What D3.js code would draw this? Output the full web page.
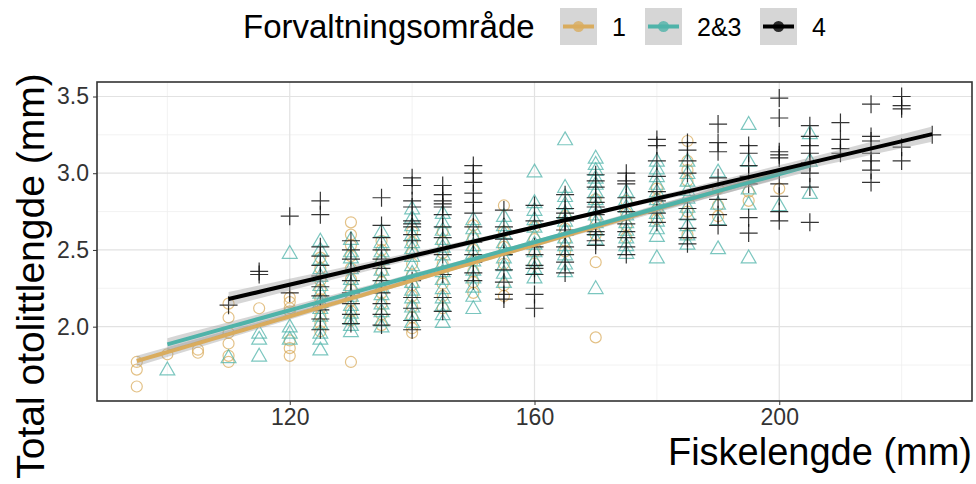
<!DOCTYPE html>
<html>
<head>
<meta charset="utf-8">
<script src="https://cdn.jsdelivr.net/npm/d3@7/dist/d3.min.js"></script>
<style>
  body { margin: 0; background: #fff; }
  text { font-family: "Liberation Sans", Arial, sans-serif; }
</style>
</head>
<body>
<svg id="chart" width="976" height="484"></svg>
<script>
// Groups and colours
var groups = ["1", "2&3", "4"];
var groupColors = ["#D9AC5E", "#4FB3A9", "#000000"];

// Observations: [fish length, [otolith lengths...]]
var area1 = [
  [95, [1.77, 1.72, 1.61]],
  [100, [1.82]],
  [105, [1.85, 1.83]],
  [110, [2.15, 2.06, 1.96, 1.89, 1.81, 1.77]],
  [115, [2.12]],
  [120, [2.19, 2.16, 2.12, 2.10, 1.91, 1.86, 1.81]],
  [125, [2.45, 2.38, 2.30, 2.24, 2.18, 2.12, 2.07, 2.02, 1.97]],
  [130, [2.68, 2.60, 2.53, 2.46, 2.38, 2.31, 2.24, 2.17, 2.10, 2.04, 1.77]],
  [135, [2.56, 2.50, 2.43, 2.36, 2.29, 2.22, 2.15, 2.08, 2.01]],
  [140, [2.62, 2.55, 2.48, 2.41, 2.34, 2.27, 2.20, 2.13, 2.06, 1.99, 1.96]],
  [145, [2.62, 2.55, 2.48, 2.41, 2.35, 2.28, 2.20, 2.12]],
  [150, [2.66, 2.58, 2.50, 2.43, 2.36, 2.29, 2.22]],
  [155, [2.79, 2.62, 2.52, 2.41, 2.27, 2.20]],
  [160, [2.65, 2.57, 2.49, 2.41]],
  [165, [2.72, 2.64, 2.56, 2.49]],
  [170, [2.83, 2.70, 2.60, 2.42, 1.93]],
  [175, [2.82, 2.74, 2.66, 2.58]],
  [180, [2.90, 2.83, 2.76, 2.70]],
  [185, [3.21, 3.08, 3.02, 2.95, 2.75, 2.60]],
  [190, [2.90, 2.79, 2.72]],
  [195, [2.88, 2.82]],
  [200, [2.90]]
];

var area23 = [
  [100, [1.72]],
  [110, [1.80]],
  [115, [1.96, 1.92, 1.81]],
  [120, [2.48, 2.00, 1.96, 1.92]],
  [125, [2.56, 2.50, 2.44, 2.38, 2.33, 2.27, 2.22, 2.16, 2.12, 2.07, 2.02, 1.96, 1.92, 1.85]],
  [130, [2.57, 2.49, 2.45, 2.38, 2.31, 2.27, 2.20, 2.14, 2.09, 2.05, 2.01, 1.97]],
  [135, [2.62, 2.55, 2.49, 2.44, 2.37, 2.31, 2.26, 2.21, 2.15, 2.10, 2.04, 2.00]],
  [140, [2.77, 2.71, 2.66, 2.60, 2.55, 2.51, 2.46, 2.40, 2.35, 2.29, 2.24, 2.19, 2.13, 2.08, 2.03]],
  [145, [2.74, 2.68, 2.63, 2.57, 2.52, 2.47, 2.41, 2.36, 2.31, 2.25, 2.19, 2.14, 2.08, 2.03]],
  [150, [2.70, 2.64, 2.59, 2.53, 2.48, 2.43, 2.37, 2.32, 2.26, 2.20, 2.12]],
  [155, [2.72, 2.66, 2.61, 2.55, 2.50, 2.45, 2.40, 2.35, 2.29]],
  [160, [3.01, 2.81, 2.76, 2.70, 2.65, 2.59, 2.54, 2.49, 2.43, 2.38, 2.32]],
  [165, [3.22, 2.91, 2.85, 2.80, 2.74, 2.69, 2.63, 2.58, 2.53, 2.47, 2.41, 2.36]],
  [170, [3.10, 3.06, 3.02, 2.97, 2.93, 2.88, 2.83, 2.78, 2.73, 2.68, 2.63, 2.57, 2.25]],
  [175, [2.88, 2.83, 2.78, 2.73, 2.68, 2.63, 2.58, 2.53, 2.48]],
  [180, [3.08, 3.03, 2.98, 2.93, 2.88, 2.83, 2.78, 2.74, 2.69, 2.64, 2.59, 2.45]],
  [185, [3.08, 3.00, 2.95, 2.89, 2.84, 2.78, 2.73, 2.66, 2.60, 2.54]],
  [190, [3.01, 2.80, 2.70, 2.51]],
  [195, [3.32, 3.08, 2.90, 2.80, 2.45]],
  [200, [2.79]],
  [205, [3.26, 3.08, 2.87]]
];

var area4 = [
  [110, [2.14]],
  [115, [2.36, 2.34]],
  [120, [2.72, 2.22]],
  [125, [2.82, 2.73, 2.52, 2.46, 2.40, 2.33, 2.26, 2.20, 2.11, 2.05, 1.98]],
  [130, [2.56, 2.50, 2.44, 2.36, 2.30, 2.22, 2.15, 2.08, 2.02]],
  [135, [2.84, 2.66, 2.58, 2.50, 2.44, 2.38, 2.30, 2.22, 2.15, 2.08, 2.01]],
  [140, [2.97, 2.92, 2.82, 2.78, 2.69, 2.67, 2.65, 2.60, 2.56, 2.30, 2.19, 2.12, 2.04, 1.98]],
  [145, [2.92, 2.86, 2.82, 2.80, 2.78, 2.73, 2.65, 2.58, 2.47, 2.34, 2.19, 2.10]],
  [150, [3.05, 3.00, 2.94, 2.87, 2.81, 2.74, 2.65, 2.55, 2.47, 2.42, 2.35, 2.30]],
  [155, [2.76, 2.65, 2.57, 2.47, 2.37, 2.29, 2.21, 2.18]],
  [160, [2.79, 2.69, 2.52, 2.47, 2.40, 2.38, 2.34, 2.21, 2.12]],
  [165, [2.86, 2.77, 2.74, 2.71, 2.69, 2.63, 2.60, 2.52, 2.47, 2.42, 2.35]],
  [170, [2.99, 2.95, 2.91, 2.84, 2.81, 2.78, 2.73, 2.62, 2.60, 2.56, 2.53]],
  [175, [3.00, 2.95, 2.93, 2.84, 2.75, 2.67, 2.62, 2.58, 2.52, 2.47]],
  [180, [3.22, 3.18, 3.08, 2.98, 2.88, 2.82, 2.74, 2.68]],
  [185, [3.20, 3.15, 3.08, 3.00, 2.77, 2.70, 2.64, 2.58, 2.54]],
  [190, [3.32, 3.20, 3.14, 2.97, 2.83, 2.73, 2.66]],
  [195, [3.18, 3.13, 3.05, 2.98, 2.93, 2.71, 2.61]],
  [200, [3.49, 3.36, 3.14, 3.12, 3.10, 2.93, 2.85, 2.75, 2.69]],
  [205, [3.31, 3.24, 3.18, 3.13, 3.07, 3.00, 2.91, 2.68]],
  [210, [3.33, 3.22, 3.16, 3.13]],
  [215, [3.45, 3.24, 3.21, 3.13, 3.08, 3.02, 2.94]],
  [220, [3.50, 3.44, 3.42, 3.17, 3.08]],
  [225, [3.25]]
];

// Fitted lm lines, one entry per group
var fitFrom = [95, 100, 110];
var fitTo = [200, 205, 225];
var fitYFrom = [1.776, 1.885, 2.18];
var fitYTo = [3.00, 3.05, 3.255];
var fitMean = [148, 155, 165];
var seMid = [0.012, 0.013, 0.012];
var seEnd = [0.035, 0.04, 0.05];

var xMajor = [120, 160, 200];
var xMinor = [100, 140, 180, 220];
var yMajor = [2.0, 2.5, 3.0, 3.5];
var yMinor = [1.75, 2.25, 2.75, 3.25];

// Layout
var panel = { left: 97, right: 972, top: 82, bottom: 401 };
var svg = d3.select("#chart");

var allSets = [area1, area23, area4];
var flat = [];
allSets.forEach(function(set, gi) {
  set.forEach(function(col) {
    col[1].forEach(function(v) { flat.push({ g: gi, x: col[0], y: v }); });
  });
});

// ggplot-style 5% expansion
function expand(ext) {
  var pad = (ext[1] - ext[0]) * 0.05;
  return [ext[0] - pad, ext[1] + pad];
}
var x = d3.scaleLinear()
  .domain(expand(d3.extent(flat, function(d) { return d.x; })))
  .range([panel.left, panel.right]);
var y = d3.scaleLinear()
  .domain(expand(d3.extent(flat, function(d) { return d.y; })))
  .range([panel.bottom, panel.top]);

// Panel background and grid
svg.append("rect")
  .attr("x", panel.left).attr("y", panel.top)
  .attr("width", panel.right - panel.left).attr("height", panel.bottom - panel.top)
  .attr("fill", "#fff");

var grid = svg.append("g");
grid.selectAll(".xmin").data(xMinor).enter().append("line")
  .attr("x1", x).attr("x2", x).attr("y1", panel.top).attr("y2", panel.bottom)
  .attr("stroke", "#efefef").attr("stroke-width", 0.8);
grid.selectAll(".ymin").data(yMinor).enter().append("line")
  .attr("y1", y).attr("y2", y).attr("x1", panel.left).attr("x2", panel.right)
  .attr("stroke", "#efefef").attr("stroke-width", 0.8);
grid.selectAll(".xmaj").data(xMajor).enter().append("line")
  .attr("x1", x).attr("x2", x).attr("y1", panel.top).attr("y2", panel.bottom)
  .attr("stroke", "#e2e2e2").attr("stroke-width", 1.2);
grid.selectAll(".ymaj").data(yMajor).enter().append("line")
  .attr("y1", y).attr("y2", y).attr("x1", panel.left).attr("x2", panel.right)
  .attr("stroke", "#e2e2e2").attr("stroke-width", 1.2);

// Points
var tri = d3.symbol().type(d3.symbolTriangle).size(95)();
var plus = "M-9,0H9M0,-9V9";
var pts = svg.append("g");
flat.forEach(function(d) {
  var px = x(d.x), py = y(d.y);
  if (d.g === 0) {
    pts.append("circle").attr("cx", px).attr("cy", py).attr("r", 5.5)
      .attr("fill", "none").attr("stroke", groupColors[0])
      .attr("stroke-opacity", 0.75).attr("stroke-width", 1.2);
  } else if (d.g === 1) {
    pts.append("path").attr("d", tri)
      .attr("transform", "translate(" + px + "," + (py + 1) + ")")
      .attr("fill", "none").attr("stroke", groupColors[1])
      .attr("stroke-opacity", 0.75).attr("stroke-width", 1.2);
  } else {
    pts.append("path").attr("d", plus)
      .attr("transform", "translate(" + px + "," + py + ")")
      .attr("fill", "none").attr("stroke", "#111")
      .attr("stroke-opacity", 0.85).attr("stroke-width", 1.2);
  }
});

// Fitted lines with confidence bands
var fitLayer = svg.append("g");
groups.forEach(function(g, i) {
  var slope = (fitYTo[i] - fitYFrom[i]) / (fitTo[i] - fitFrom[i]);
  var dmax = Math.max(fitMean[i] - fitFrom[i], fitTo[i] - fitMean[i]);
  var k = (seEnd[i] * seEnd[i] - seMid[i] * seMid[i]) / (dmax * dmax);
  var xs = d3.range(fitFrom[i], fitTo[i] + 0.001, (fitTo[i] - fitFrom[i]) / 60);
  var rows = xs.map(function(xv) {
    var fit = fitYFrom[i] + slope * (xv - fitFrom[i]);
    var hw = Math.sqrt(seMid[i] * seMid[i] + k * (xv - fitMean[i]) * (xv - fitMean[i]));
    return { x: xv, fit: fit, lo: fit - hw, hi: fit + hw };
  });
  fitLayer.append("path").datum(rows)
    .attr("d", d3.area().x(function(d) { return x(d.x); })
      .y0(function(d) { return y(d.lo); }).y1(function(d) { return y(d.hi); }))
    .attr("fill", "#999").attr("fill-opacity", 0.4);
  fitLayer.append("path").datum(rows)
    .attr("d", d3.line().x(function(d) { return x(d.x); }).y(function(d) { return y(d.fit); }))
    .attr("fill", "none").attr("stroke", groupColors[i]).attr("stroke-width", 4);
});

// Panel border
svg.append("rect")
  .attr("x", panel.left).attr("y", panel.top)
  .attr("width", panel.right - panel.left).attr("height", panel.bottom - panel.top)
  .attr("fill", "none").attr("stroke", "#333").attr("stroke-width", 1.6);

// Axes
var xAxis = svg.append("g")
  .attr("transform", "translate(0," + panel.bottom + ")")
  .call(d3.axisBottom(x).tickValues(xMajor).tickSize(4).tickPadding(4).tickFormat(d3.format("d")));
var yAxis = svg.append("g")
  .attr("transform", "translate(" + panel.left + ",0)")
  .call(d3.axisLeft(y).tickValues(yMajor).tickSize(4).tickPadding(4).tickFormat(d3.format(".1f")));
[xAxis, yAxis].forEach(function(ax) {
  ax.select(".domain").remove();
  ax.selectAll(".tick line").attr("stroke", "#333");
  ax.selectAll(".tick text").attr("fill", "#333").style("font-size", "23px")
    .style("font-family", "'Liberation Sans', Arial, sans-serif");
});

// Axis titles
svg.append("text")
  .attr("x", panel.right).attr("y", 465)
  .attr("text-anchor", "end").style("font-size", "38px")
  .text("Fiskelengde (mm)");
svg.append("text")
  .attr("transform", "translate(44,276) rotate(-90)")
  .attr("text-anchor", "middle").style("font-size", "39px")
  .text("Total otolittlengde (mm)");

// Legend
var legend = svg.append("g");
legend.append("text").attr("x", 243).attr("y", 38)
  .style("font-size", "33px").text("Forvaltningsområde");
var keyX = [560, 645, 760];
groups.forEach(function(g, i) {
  var k = legend.append("g").attr("transform", "translate(" + keyX[i] + ",8)");
  k.append("rect").attr("width", 37).attr("height", 37).attr("fill", "#d6d6d6");
  k.append("line").attr("x1", 3).attr("x2", 34).attr("y1", 18.5).attr("y2", 18.5)
    .attr("stroke", groupColors[i]).attr("stroke-width", 4);
  k.append("circle").attr("cx", 18.5).attr("cy", 18.5).attr("r", 5.5)
    .attr("fill", groupColors[i]).attr("fill-opacity", 0.8);
  k.append("text").attr("x", 52).attr("y", 28)
    .style("font-size", "25px").text(g);
});
</script>
</body>
</html>
